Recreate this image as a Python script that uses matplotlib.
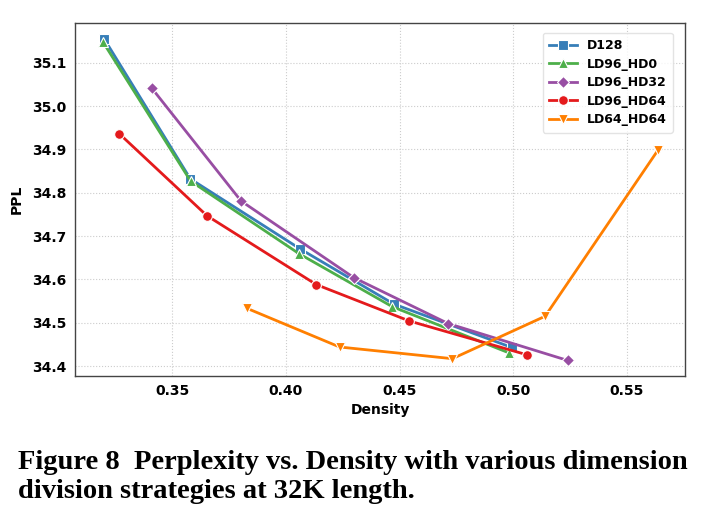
import numpy as np
import matplotlib
matplotlib.use('Agg')
import matplotlib.pyplot as plt

# densidad / PPL por estrategia
d128_x = [0.320, 0.358, 0.4064, 0.4475, 0.4993]
d128_y = [35.156, 34.832, 34.670, 34.543, 34.443]

ld96_hd0_x = [0.3197, 0.3581, 0.4059, 0.4468, 0.4983]
ld96_hd0_y = [35.147, 34.827, 34.659, 34.537, 34.430]

ld96_hd32_x = [0.3411, 0.3803, 0.4299, 0.4714, 0.5239]
ld96_hd32_y = [35.041, 34.781, 34.604, 34.498, 34.413]

ld96_hd64_x = [0.3268, 0.3653, 0.4134, 0.4543, 0.5060]
ld96_hd64_y = [34.936, 34.747, 34.588, 34.504, 34.426]

ld64_hd64_x = [0.383, 0.4236, 0.4732, 0.5140, 0.5637]
ld64_hd64_y = [34.533, 34.444, 34.417, 34.515, 34.899]

series = [
    ('D128', d128_x, d128_y, '#377eb8', 's'),
    ('LD96_HD0', ld96_hd0_x, ld96_hd0_y, '#4daf4a', '^'),
    ('LD96_HD32', ld96_hd32_x, ld96_hd32_y, '#984ea3', 'D'),
    ('LD96_HD64', ld96_hd64_x, ld96_hd64_y, '#e41a1c', 'o'),
    ('LD64_HD64', ld64_hd64_x, ld64_hd64_y, '#ff7f00', 'v'),
]

caption = ['Figure 8  Perplexity vs. Density with various dimension',
           'division strategies at 32K length.']

fig = plt.figure(figsize=(7.08, 5.27), dpi=100)
ax = fig.add_axes([0.106, 0.2865, 0.8615, 0.670])

for name, x, y, c, m in series:
    ax.plot(x, y, color=c, marker=m, markersize=7 if m != 'D' else 6,
            markeredgecolor='white', markeredgewidth=0.8, linewidth=2, label=name)

ax.set_xlim(0.3073, 0.5755)
ax.set_ylim(34.377, 35.192)
ax.set_xticks([0.35, 0.40, 0.45, 0.50, 0.55])
ax.set_yticks([34.4, 34.5, 34.6, 34.7, 34.8, 34.9, 35.0, 35.1])
ax.set_xticklabels(['0.35', '0.40', '0.45', '0.50', '0.55'])
ax.grid(True, linestyle=':', color='#cccccc', linewidth=0.8)
ax.set_axisbelow(True)
for s in ax.spines.values():
    s.set_color('#444444')
    s.set_linewidth(1.0)
ax.tick_params(labelsize=10, length=0, pad=6)
for lbl in ax.get_xticklabels() + ax.get_yticklabels():
    lbl.set_fontweight('bold')
ax.set_xlabel('Density', fontsize=10, fontweight='bold', labelpad=3)
ax.set_ylabel('PPL', fontsize=10, fontweight='bold', labelpad=6)

leg = ax.legend(loc='upper right', prop={'weight': 'bold', 'size': 9},
                frameon=True, fancybox=True, borderpad=0.5, labelspacing=0.45,
                handlelength=2.2, bbox_to_anchor=(0.99, 0.99))
leg.get_frame().set_edgecolor('#dddddd')

# pie de figura, una linea cada vez
for i, line in enumerate(caption):
    fig.text(0.025, 0.1233 - i * 0.055, line,
             family='Liberation Serif', fontweight='bold', fontsize=20.5,
             ha='left', va='center')

fig.savefig('out.png', dpi=100)
